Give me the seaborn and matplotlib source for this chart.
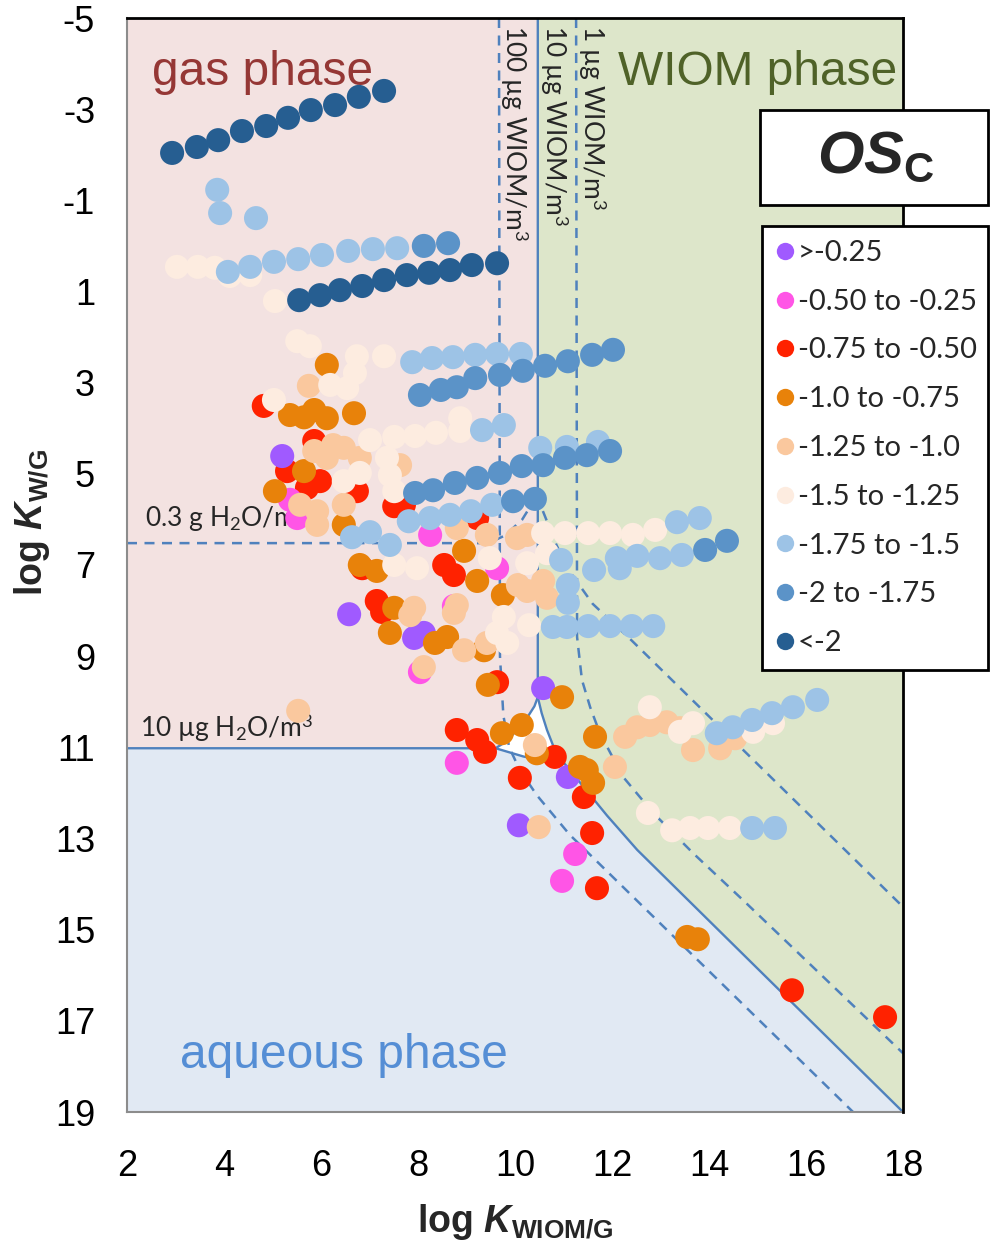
import numpy as np
import pandas as pd
import matplotlib
matplotlib.use("Agg")
import matplotlib.pyplot as plt
import seaborn as sns
from matplotlib.lines import Line2D
from matplotlib.patches import Rectangle, Polygon

# ---------------- data ----------------
categories = [">-0.25", "-0.50 to -0.25", "-0.75 to -0.50", "-1.0 to -0.75",
              "-1.25 to -1.0", "-1.5 to -1.25", "-1.75 to -1.5", "-2 to -1.75", "<-2"]
cat_colors = ["#A05AFF", "#FF55E6", "#FF2200", "#E8820A", "#FAC89E",
              "#FDECE0", "#9DC3E6", "#5B93C8", "#265E91"]

purple_x = [5.20, 6.58, 7.92, 8.12, 10.58, 11.09, 10.08]
purple_y = [4.61, 8.08, 8.60, 8.49, 9.70, 11.65, 12.71]

magenta_x = [5.36, 5.51, 8.25, 9.63, 8.04, 8.80, 11.24, 10.97, 8.74]
magenta_y = [5.57, 5.97, 6.34, 7.07, 9.35, 11.34, 13.34, 13.93, 7.90]

red_x = [4.82, 5.86, 5.30, 5.71, 5.98, 6.74, 7.51, 7.71, 9.22, 6.85, 8.54, 8.74, 7.15,
         7.26, 9.63, 8.80, 9.22, 9.38, 10.82, 10.10, 11.42, 11.59, 11.69, 15.71, 17.63]
red_y = [3.51, 4.28, 4.94, 5.31, 5.16, 5.38, 5.71, 5.68, 5.97, 7.07, 7.00, 7.22, 7.79,
         8.03, 9.57, 10.62, 10.84, 11.10, 11.21, 11.67, 12.09, 12.88, 14.09, 16.33, 16.92]

orange_x = [6.12, 5.36, 5.65, 5.86, 6.12, 6.68, 5.05, 5.65, 6.47, 6.80, 7.15, 7.51, 7.42,
            8.35, 8.60, 9.36, 8.95, 9.22, 9.75, 9.44, 10.97, 9.73, 10.14, 10.45, 11.65,
            11.48, 11.61, 11.34, 13.55, 13.77]
orange_y = [2.61, 3.71, 3.76, 3.60, 3.78, 3.67, 5.38, 4.94, 6.12, 7.00, 7.13, 7.94, 8.49,
            8.71, 8.58, 8.87, 6.69, 7.35, 7.66, 9.63, 9.90, 10.69, 10.51, 11.13, 10.77,
            11.50, 11.78, 11.43, 15.16, 15.21]

peach_x = [5.53, 5.75, 5.86, 6.12, 6.47, 6.80, 7.63, 5.57, 5.92, 5.92, 6.47, 6.25, 8.80,
           9.42, 10.04, 10.25, 7.84, 8.74, 8.95, 9.42, 8.12, 7.92, 8.80, 10.06, 10.25,
           10.58, 10.66, 10.41, 10.49, 12.06, 12.27, 12.52, 12.78, 13.13, 13.40, 13.67,
           14.23, 14.54]
peach_y = [10.20, 3.07, 4.50, 4.65, 4.43, 4.65, 4.81, 5.68, 5.82, 6.12, 5.68, 4.37, 6.19,
           6.34, 6.41, 6.34, 8.10, 8.05, 8.87, 8.71, 9.24, 7.94, 7.88, 7.44, 7.57,
           7.35, 7.72, 10.95, 12.75, 11.43, 10.77, 10.56, 10.51, 10.45, 10.58, 11.06,
           11.02, 10.80]

cream_x = [3.03, 3.46, 3.81, 4.12, 4.54, 5.05, 5.51, 5.77, 6.74, 7.30, 6.19, 6.54, 6.70,
           5.03, 7.01, 7.51, 7.94, 8.37, 8.87, 8.87, 7.36, 7.42, 7.51, 6.47, 6.80, 10.58,
           11.03, 11.51, 11.96, 12.43, 12.89, 10.25, 10.66, 9.48, 7.98, 7.51, 9.77, 9.63,
           9.84, 10.29, 12.78, 13.40, 13.67, 14.91, 15.32, 12.74, 13.24, 13.61, 13.98, 14.43]
cream_y = [0.46, 0.46, 0.48, 0.66, 0.64, 1.21, 2.09, 2.20, 2.42, 2.42, 3.05, 3.12, 2.79,
           3.38, 4.26, 4.19, 4.17, 4.10, 4.06, 3.78, 4.65, 5.03, 5.38, 5.16, 4.98, 6.30,
           6.30, 6.30, 6.30, 6.34, 6.23, 6.96, 6.74, 6.85, 7.07, 7.00, 8.14, 8.49,
           8.71, 8.32, 10.12, 10.66, 10.47, 10.66, 10.47, 12.44, 12.82, 12.77, 12.77, 12.77]

lightblue_x = [3.86, 3.92, 4.66, 4.08, 4.54, 5.03, 5.53, 6.02, 6.56, 7.07, 7.57, 7.88, 8.29,
               8.72, 9.18, 9.63, 10.12, 9.32, 9.77, 10.52, 11.07, 11.71, 6.64, 7.01, 7.42,
               7.81, 8.25, 8.66, 9.09, 9.53, 13.34, 13.81, 10.95, 11.63, 12.10, 12.16, 12.52,
               12.99, 13.44, 11.09, 11.09, 10.78, 11.07, 11.51, 11.96, 12.41, 12.85, 14.16,
               14.49, 14.89, 15.30, 15.73, 16.23, 14.89, 15.36]
lightblue_y = [-1.23, -0.72, -0.61, 0.57, 0.46, 0.35, 0.29, 0.20, 0.11, 0.07, 0.05, 2.55, 2.46,
               2.44, 2.39, 2.37, 2.37, 4.04, 3.93, 4.43, 4.41, 4.30, 6.39, 6.28, 6.56,
               6.04, 5.97, 5.90, 5.82, 5.68, 6.06, 5.97, 6.89, 7.11, 6.85, 7.07, 6.80,
               6.85, 6.78, 7.44, 7.83, 8.36, 8.36, 8.34, 8.34, 8.34, 8.34, 10.69,
               10.56, 10.40, 10.25, 10.12, 9.96, 12.77, 12.77]

midblue_x = [8.12, 8.62, 8.04, 8.47, 8.80, 9.18, 9.69, 10.16, 10.62, 11.09, 11.59, 12.02,
             7.94, 8.31, 8.76, 9.22, 9.69, 10.14, 10.58, 11.03, 11.48, 11.96, 9.96, 10.41,
             13.92, 14.37]
midblue_y = [0.00, -0.06, 3.27, 3.16, 3.10, 2.90, 2.83, 2.74, 2.63, 2.53, 2.39, 2.28,
             5.42, 5.36, 5.20, 5.09, 4.98, 4.83, 4.81, 4.65, 4.59, 4.50, 5.60, 5.55,
             6.67, 6.47]

darkblue_x = [2.93, 3.44, 3.88, 4.37, 4.87, 5.32, 5.79, 6.29, 6.78, 7.30,
              5.55, 5.98, 6.39, 6.85, 7.30, 7.77, 8.23, 8.66, 9.11, 9.63]
darkblue_y = [-2.04, -2.17, -2.32, -2.52, -2.63, -2.81, -2.98, -3.09, -3.27, -3.40,
              1.19, 1.08, 0.97, 0.88, 0.75, 0.64, 0.59, 0.53, 0.42, 0.38]

# phase boundaries
gas_curve_x = [10.47, 10.47, 10.40, 10.25, 10.05, 9.85, 9.60, 2.0]
gas_curve_y = [-5.0, 9.90, 10.10, 10.35, 10.60, 10.85, 11.02, 11.02]
wiom_curve_x = [10.47, 10.55, 10.66, 10.80, 11.00, 11.40, 11.90, 12.52, 18.0]
wiom_curve_y = [9.90, 10.25, 10.62, 11.00, 11.33, 11.85, 12.50, 13.25, 19.0]
aq_curve_x = [9.60, 10.17, 10.60, 11.00]
aq_curve_y = [11.02, 11.20, 11.30, 11.33]

dashA_x = [9.67, 9.69, 9.76, 9.88, 10.10, 10.45, 11.13, 12.31, 16.97]
dashA_y = [-5.0, 9.00, 10.30, 11.00, 11.50, 12.05, 12.92, 14.15, 19.0]
dashB_x = [11.26, 11.28, 11.38, 11.55, 11.75, 12.23, 12.85, 13.67, 14.70, 18.0]
dashB_y = [-5.0, 8.58, 9.52, 10.12, 10.69, 11.65, 12.44, 13.32, 14.35, 17.71]
dashC_x = [10.47, 10.55, 10.85, 11.10, 11.60, 12.40, 18.0]
dashC_y = [5.45, 5.75, 6.55, 7.10, 7.85, 8.65, 14.5]
dashD_x = [2.0, 9.45, 9.80, 10.15, 10.47]
dashD_y = [6.52, 6.52, 6.35, 6.00, 5.45]

x_ticks = [2, 4, 6, 8, 10, 12, 14, 16, 18]
y_ticks = [-5, -3, -1, 1, 3, 5, 7, 9, 11, 13, 15, 17, 19]

# ---------------- style ----------------
sns.set_theme(style="white")
plt.rcParams['font.family'] = ['Liberation Sans', 'DejaVu Sans']
plt.rcParams['mathtext.fontset'] = 'custom'
plt.rcParams['mathtext.rm'] = 'Lato'
plt.rcParams['mathtext.it'] = 'Lato:italic'
plt.rcParams['mathtext.bf'] = 'Liberation Sans:bold'
plt.rcParams['mathtext.bfit'] = 'Liberation Sans:italic:bold'

W, H = 990, 1256
fig = plt.figure(figsize=(W / 100, H / 100), dpi=100)
L, R, T, B = 127, 903, 18, 1112
ax = fig.add_axes([L / W, 1 - B / H, (R - L) / W, (B - T) / H])
ax.set_facecolor("white")

GAS = "#F3E2E1"
WIOM = "#DDE6CA"
AQ = "#E1E9F3"
LINE = "#4F81BD"

gas_poly = list(zip([2.0] + gas_curve_x, [-5.0] + gas_curve_y))
ax.add_patch(Polygon(gas_poly, closed=True, fc=GAS, ec="none", zorder=0.5))
wiom_poly = [(10.47, -5.0), (18.0, -5.0), (18.0, 19.0)] + list(zip(wiom_curve_x[::-1], wiom_curve_y[::-1]))
ax.add_patch(Polygon(wiom_poly, closed=True, fc=WIOM, ec="none", zorder=0.5))
aq_poly = [(2.0, 11.02)] + list(zip(aq_curve_x, aq_curve_y)) + \
    list(zip(wiom_curve_x[4:], wiom_curve_y[4:])) + [(2.0, 19.0)]
ax.add_patch(Polygon(aq_poly, closed=True, fc=AQ, ec="none", zorder=0.5))

ax.plot(gas_curve_x, gas_curve_y, color=LINE, lw=1.7, zorder=2)
ax.plot(wiom_curve_x, wiom_curve_y, color=LINE, lw=1.7, zorder=2)
ax.plot(aq_curve_x, aq_curve_y, color=LINE, lw=1.7, zorder=2)
for dx, dy in [(dashA_x, dashA_y), (dashB_x, dashB_y), (dashC_x, dashC_y), (dashD_x, dashD_y)]:
    ax.plot(dx, dy, color=LINE, lw=1.8, ls=(0, (4.0, 3.0)), zorder=2)

# ---------------- scatter ----------------
draw_order = [2, 1, 0, 3, 4, 5, 6, 7, 8]
all_x = [purple_x, magenta_x, red_x, orange_x, peach_x, cream_x, lightblue_x, midblue_x, darkblue_x]
all_y = [purple_y, magenta_y, red_y, orange_y, peach_y, cream_y, lightblue_y, midblue_y, darkblue_y]
frames = [pd.DataFrame({"x": all_x[i], "y": all_y[i], "OSc": categories[i]}) for i in draw_order]
df = pd.concat(frames, ignore_index=True)
palette = dict(zip(categories, cat_colors))
sns.scatterplot(data=df, x="x", y="y", hue="OSc", hue_order=categories, palette=palette,
                s=300, linewidth=0, alpha=1, ax=ax, zorder=4, legend=False)

ax.set_xlim(2, 18)
ax.set_ylim(19, -5)

# ---------------- texts ----------------
ax.text(2.52, -3.53, "gas phase", fontsize=34.5, color="#953735", zorder=3)
ax.text(17.88, -3.53, "WIOM phase", fontsize=34.5, color="#4F6228", ha="right", zorder=3)
ax.text(3.09, 18.04, "aqueous phase", fontsize=34.5, color="#558ED5", zorder=3)

lab_font = ['Lato', 'DejaVu Sans']
ax.text(2.37, 6.17, "0.3 g H$_2$O/m$^3$", fontsize=19, family=lab_font, zorder=3)
ax.text(2.27, 10.77, "10 \u00b5g H$_2$O/m$^3$", fontsize=19, family=lab_font, zorder=3)
ax.text(9.98, -4.85, "100 \u00b5g WIOM/m$^3$", fontsize=19, family=lab_font, rotation=-90,
        ha="center", va="top", zorder=3)
ax.text(10.81, -4.85, "10 \u00b5g WIOM/m$^3$", fontsize=19, family=lab_font, rotation=-90,
        ha="center", va="top", zorder=3)
ax.text(11.59, -4.85, "1 \u00b5g WIOM/m$^3$", fontsize=19, family=lab_font, rotation=-90,
        ha="center", va="top", zorder=3)

# ---------------- axes ----------------
ax.set_xticks(x_ticks)
ax.set_xticks(range(2, 19), minor=True)
ax.set_yticks(y_ticks)
ax.set_yticks(range(-5, 20), minor=True)
ax.set_xticklabels([str(v) for v in x_ticks])
ax.set_yticklabels([str(v) for v in y_ticks])
ax.tick_params(axis="both", which="both", direction="out", length=9, width=1.5,
               color="#8C8C8C", labelsize=26, labelcolor="black")
ax.tick_params(axis="x", which="major", pad=18)
ax.tick_params(axis="y", which="major", pad=14)
for s in ["left", "bottom"]:
    ax.spines[s].set_color("#8C8C8C")
    ax.spines[s].set_linewidth(1.5)
for s in ["top", "right"]:
    ax.spines[s].set_color("black")
    ax.spines[s].set_linewidth(2)
    ax.spines[s].set_zorder(5)

ax.set_xlabel(r"log $\mathbfit{K}_{\mathbf{WIOM/G}}$", fontsize=27, fontweight="bold")
ax.set_ylabel(r"log $\mathbfit{K}_{\mathbf{W/G}}$", fontsize=27, fontweight="bold")
ax.xaxis.label.set_va("center")
ax.yaxis.label.set_va("center")
ax.xaxis.set_label_coords(0.5, (B - 1222) / (B - T))
ax.yaxis.set_label_coords((32 - L) / (R - L), (B - 522) / (B - T))

# ---------------- legend & title box ----------------
handles = [Line2D([], [], marker="o", ls="", markersize=12.5, markerfacecolor=c,
                  markeredgewidth=0) for c in cat_colors]
leg = fig.legend(handles, categories, loc="upper left",
                 bbox_to_anchor=(762 / W, 1 - 662 / H, 226 / W, (662 - 226) / H),
                 mode="expand", borderaxespad=0, frameon=True, fancybox=False,
                 prop={"family": ["Lato", "DejaVu Sans"], "size": 21},
                 handlelength=0.6, handletextpad=0.15, borderpad=0.48, labelspacing=0.78)
leg.get_frame().set_edgecolor("black")
leg.get_frame().set_linewidth(2)
leg.get_frame().set_facecolor("white")
leg.get_frame().set_alpha(1)

fig.patches.append(Rectangle((760 / W, 1 - 205 / H), 228 / W, 95 / H, transform=fig.transFigure,
                             fc="white", ec="black", lw=2, zorder=10))
fig.text(876 / W, 1 - 157 / H, r"$\mathbfit{OS}_{\mathbf{C}}$", fontsize=43,
         ha="center", va="center", zorder=11)

fig.savefig("out.png", dpi=100)
